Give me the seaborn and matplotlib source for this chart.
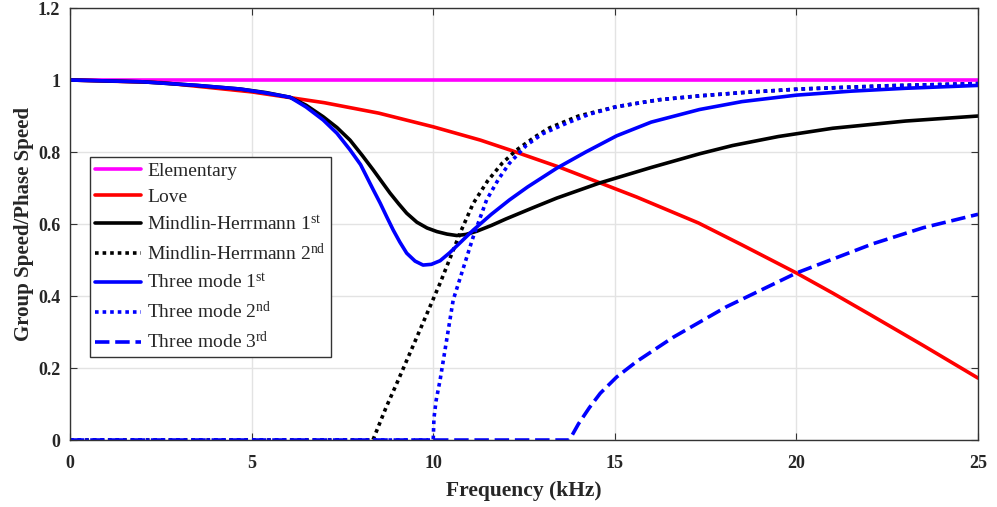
import numpy as np
import pandas as pd
import matplotlib
matplotlib.use("Agg")
import matplotlib.pyplot as plt
import seaborn as sns

# ---------------- data ----------------
elem_f = [0, 25]
elem_v = [1.0, 1.0]

love_f = [0, 2.5, 5, 7, 8.5, 10, 11.3, 12.1, 13.5, 14.6, 15.6, 17.3, 18.5, 20, 21, 22, 23.5, 25]
love_v = [1.0, 0.993, 0.967, 0.937, 0.908, 0.87, 0.833, 0.806, 0.757, 0.714, 0.675,
          0.603, 0.542, 0.464, 0.408, 0.350, 0.262, 0.172]

mh1_f = [0, 2, 3.5, 4.68, 5.4, 6.06, 6.5, 6.97, 7.35, 7.71, 8.05, 8.35, 8.58, 8.81, 9.05,
         9.27, 9.55, 9.83, 10.1, 10.38, 10.65, 10.9, 11.2, 11.6, 12.0, 12.74, 13.4, 14.58,
         16, 17.33, 18.24, 19.5, 21, 23, 25]
mh1_v = [1.0, 0.995, 0.985, 0.975, 0.965, 0.952, 0.93, 0.898, 0.868, 0.833, 0.79, 0.75,
         0.718, 0.686, 0.656, 0.63, 0.605, 0.589, 0.579, 0.572, 0.568, 0.571, 0.58, 0.596,
         0.614, 0.645, 0.672, 0.714, 0.757, 0.795, 0.818, 0.843, 0.866, 0.886, 0.90]

mh2_f = [0, 8.34, 8.7, 9.0, 9.55, 10.19, 10.74, 11.1, 11.5, 11.9, 12.3, 12.8, 13.2, 14.0,
         15.05, 16.2, 17.33, 18.5, 20.1, 22.5, 25]
mh2_v = [0, 0, 0.09, 0.158, 0.286, 0.436, 0.575, 0.657, 0.72, 0.769, 0.806, 0.842, 0.867,
         0.9, 0.926, 0.945, 0.956, 0.965, 0.975, 0.984, 0.99]

tm1_f = [0, 2, 3.5, 4.68, 5.4, 6.06, 6.5, 6.97, 7.35, 7.71, 8.0, 8.17, 8.35, 8.54, 8.72,
         8.9, 9.08, 9.27, 9.5, 9.72, 9.95, 10.19, 10.45, 10.73, 11.1, 11.6, 12.1, 12.6,
         13.4, 14.2, 15.05, 16, 17.33, 18.5, 20, 21.5, 23, 25]
tm1_v = [1.0, 0.995, 0.985, 0.975, 0.964, 0.952, 0.925, 0.889, 0.852, 0.806, 0.765, 0.731,
         0.695, 0.658, 0.62, 0.583, 0.55, 0.519, 0.497, 0.486, 0.488, 0.498, 0.52, 0.547,
         0.583, 0.627, 0.667, 0.703, 0.755, 0.8, 0.845, 0.883, 0.918, 0.94, 0.958, 0.969,
         0.977, 0.985]

tm2_f = [0, 10.0, 10.02, 10.08, 10.19, 10.37, 10.55, 10.82, 11.1, 11.47, 11.8, 12.1, 12.57,
         13.0, 13.67, 14.3, 15.05, 16.2, 17.33, 18.5, 20.1, 22.5, 25]
tm2_v = [0, 0, 0.06, 0.11, 0.167, 0.278, 0.389, 0.475, 0.564, 0.667, 0.725, 0.769, 0.819,
         0.85, 0.88, 0.905, 0.926, 0.945, 0.956, 0.965, 0.975, 0.984, 0.99]

tm3_f = [0, 13.75, 14.0, 14.3, 14.6, 15.05, 15.6, 16.6, 18.07, 20, 22.1, 23.5, 25]
tm3_v = [0, 0, 0.045, 0.09, 0.13, 0.175, 0.218, 0.285, 0.37, 0.464, 0.545, 0.59, 0.627]

labels = ["Elementary", "Love",
          r"Mindlin-Herrmann 1$^{\mathrm{st}}$",
          r"Mindlin-Herrmann 2$^{\mathrm{nd}}$",
          r"Three mode 1$^{\mathrm{st}}$",
          r"Three mode 2$^{\mathrm{nd}}$",
          r"Three mode 3$^{\mathrm{rd}}$"]
xticks = [0, 5, 10, 15, 20, 25]
yticks = [0, 0.2, 0.4, 0.6, 0.8, 1.0, 1.2]
ytick_labels = ["0", "0.2", "0.4", "0.6", "0.8", "1", "1.2"]

# ---------------- style ----------------
sns.set_style("white")
plt.rcParams["font.family"] = ["Liberation Serif", "DejaVu Serif"]
plt.rcParams["mathtext.fontset"] = "custom"
plt.rcParams["mathtext.rm"] = "Liberation Serif"
plt.rcParams["mathtext.it"] = "Liberation Serif:italic"
plt.rcParams["mathtext.bf"] = "Liberation Serif:bold"

fig = plt.figure(figsize=(9.97, 5.07), dpi=100)
ax = fig.add_axes([0.0702, 0.1321, 0.9108, 0.8521])

series = [
    (elem_f, elem_v, "#FF00FF", "-"),
    (love_f, love_v, "#FF0000", "-"),
    (mh1_f, mh1_v, "#000000", "-"),
    (mh2_f, mh2_v, "#000000", (0, (1, 1.1))),
    (tm1_f, tm1_v, "#0000FF", "-"),
    (tm2_f, tm2_v, "#0000FF", (0, (1, 1.1))),
    (tm3_f, tm3_v, "#0000FF", (0, (4, 1.6))),
]

for (f, v, c, ls), lab in zip(series, labels):
    df = pd.DataFrame({"f": f, "v": v})
    sns.lineplot(data=df, x="f", y="v", ax=ax, color=c, linewidth=2.6,
                 linestyle=ls, estimator=None, sort=False, label=lab)

ax.set_xlim(0, 25)
ax.set_ylim(0, 1.2)
ax.set_xticks(xticks)
ax.set_yticks(yticks)
ax.set_xticklabels([str(t) for t in xticks], fontsize=13, fontweight="bold")
ax.set_yticklabels(ytick_labels, fontsize=13, fontweight="bold")
ax.grid(True, color="#e3e3e3", linewidth=1.0)
ax.set_axisbelow(True)
ax.tick_params(direction="in", length=5, width=0.8, color="#333333",
               top=True, right=True, bottom=True, left=True)
ax.tick_params(axis="x", pad=11)
ax.tick_params(axis="y", pad=7)
for s in ax.spines.values():
    s.set_visible(True)
    s.set_color("#333333")
    s.set_linewidth(1.0)

ax.set_xlabel("Frequency (kHz)", fontsize=15.5, fontweight="bold", labelpad=6)
ax.set_ylabel("Group Speed/Phase Speed", fontsize=15, fontweight="bold", labelpad=3)

leg = ax.legend(loc="upper left", bbox_to_anchor=(0.022, 0.655), fontsize=14,
                frameon=True, fancybox=False, edgecolor="#333333",
                handlelength=2.4, handletextpad=0.3, labelspacing=0.45,
                borderpad=0.25, borderaxespad=0.0)
leg.get_frame().set_linewidth(1.0)
leg.get_frame().set_alpha(1.0)

fig.savefig("out.png", dpi=100)
